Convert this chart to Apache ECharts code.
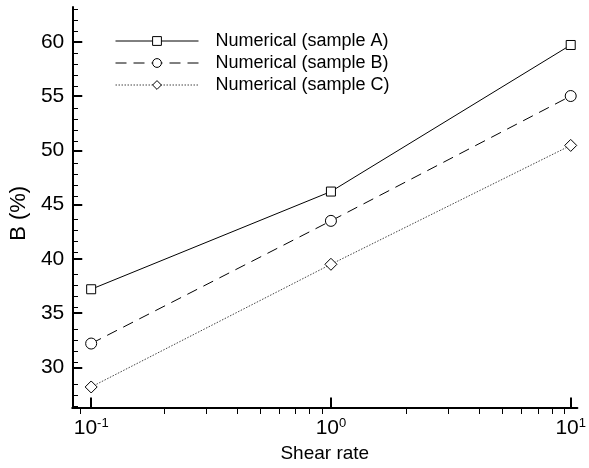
<!DOCTYPE html>
<html><head><meta charset="utf-8">
<script src="https://cdn.jsdelivr.net/npm/echarts@6/dist/echarts.min.js"></script>
<style>html,body{margin:0;padding:0;background:#fff}#c{width:589px;height:468px}</style>
</head><body><div id="c"></div>
<script>
const shearRate = [0.1, 1, 10];
const sampleA = [37.2, 46.2, 59.7];
const sampleB = [32.2, 43.5, 55.0];
const sampleC = [28.2, 39.5, 50.45];
const seriesNames = ['Numerical (sample A)', 'Numerical (sample B)', 'Numerical (sample C)'];
const yMajorTicks = [30, 35, 40, 45, 50, 55, 60];
const yMinorTicks = [27, 28, 29, 31, 32, 33, 34, 36, 37, 38, 39, 41, 42, 43, 44, 46, 47, 48, 49, 51, 52, 53, 54, 56, 57, 58, 59, 61, 62, 63];
const xMajorTicks = [0.1, 1, 10];
const xMinorTicks = [0.09, 0.2, 0.3, 0.4, 0.5, 0.6, 0.7, 0.8, 0.9, 2, 3, 4, 5, 6, 7, 8, 9];

const FONT = 'Liberation Sans, Arial, Helvetica, sans-serif';
const X_MIN = 0.0834, X_MAX = 10.66, Y_MIN = 26.3, Y_MAX = 63.2;
const gridBox = {left: 72, right: 7, top: 7, bottom: 54, containLabel: false};

const chart = echarts.init(document.getElementById('c'), null, {renderer: 'canvas'});
const mk = (name, data, symbol, size, lineType, color) => ({
  name, type: 'line', xAxisIndex: 0, yAxisIndex: 0,
  data: shearRate.map((x, i) => [x, data[i]]),
  symbol, symbolSize: size, showSymbol: true,
  lineStyle: {color, width: 1, type: lineType},
  itemStyle: {color: '#fff', borderColor: '#000', borderWidth: 1},
  emphasis: {disabled: true}
});
chart.setOption({
  animation: false,
  backgroundColor: '#fff',
  textStyle: {fontFamily: FONT},
  grid: [Object.assign({}, gridBox), Object.assign({}, gridBox)],
  legend: {
    orient: 'vertical', left: 115, top: 32, padding: 0, itemWidth: 83, itemHeight: 11, itemGap: 4,
    data: seriesNames,
    itemStyle: {borderWidth: 1},
    lineStyle: {width: 1},
    textStyle: {fontSize: 18, color: '#000', fontFamily: FONT, lineHeight: 18, padding: [0, 0, 0, 12]}
  },
  xAxis: [{
    type: 'log', gridIndex: 0, min: X_MIN, max: X_MAX, position: 'bottom',
    name: 'Shear rate', nameLocation: 'middle', nameGap: 28,
    nameTextStyle: {fontSize: 19, color: '#000', fontFamily: FONT},
    axisLine: {show: true, lineStyle: {color: '#000', width: 2}},
    axisTick: {show: true, inside: true, length: 10, customValues: xMajorTicks, lineStyle: {color: '#000', width: 2}},
    axisLabel: {
      customValues: xMajorTicks, margin: 9,
      formatter: v => '{b|10}{s|' + Math.round(Math.log10(v)) + '}',
      rich: {
        b: {fontSize: 21, color: '#000', fontFamily: FONT, lineHeight: 24},
        s: {fontSize: 13, color: '#000', fontFamily: FONT, verticalAlign: 'top', lineHeight: 13}
      }
    },
    splitLine: {show: false}
  }, {
    type: 'log', gridIndex: 1, min: X_MIN, max: X_MAX, position: 'bottom',
    axisLine: {show: false},
    axisTick: {show: true, inside: true, length: 6, customValues: xMinorTicks, lineStyle: {color: '#000', width: 1}},
    axisLabel: {show: false},
    splitLine: {show: false}
  }],
  yAxis: [{
    type: 'value', gridIndex: 0, min: Y_MIN, max: Y_MAX, position: 'left',
    name: 'B (%)', nameLocation: 'middle', nameGap: 36, nameRotate: 90,
    nameTextStyle: {fontSize: 22, color: '#000', fontFamily: FONT, padding: [0, 12, 0, 0]},
    axisLine: {show: true, lineStyle: {color: '#000', width: 2}},
    axisTick: {show: true, inside: true, length: 10, customValues: yMajorTicks, lineStyle: {color: '#000', width: 2}},
    axisLabel: {customValues: yMajorTicks, margin: 8, fontSize: 21, color: '#000', fontFamily: FONT},
    splitLine: {show: false}
  }, {
    type: 'value', gridIndex: 1, min: Y_MIN, max: Y_MAX, position: 'left',
    axisLine: {show: false},
    axisTick: {show: true, inside: true, length: 6, customValues: yMinorTicks, lineStyle: {color: '#000', width: 1}},
    axisLabel: {show: false},
    splitLine: {show: false}
  }],
  series: [
    mk(seriesNames[0], sampleA, 'rect', 9, 'solid', '#000'),
    mk(seriesNames[1], sampleB, 'circle', 11, [11, 7], '#000'),
    mk(seriesNames[2], sampleC, 'diamond', 12, [1.5, 1.5], '#444')
  ]
});
</script></body></html>
